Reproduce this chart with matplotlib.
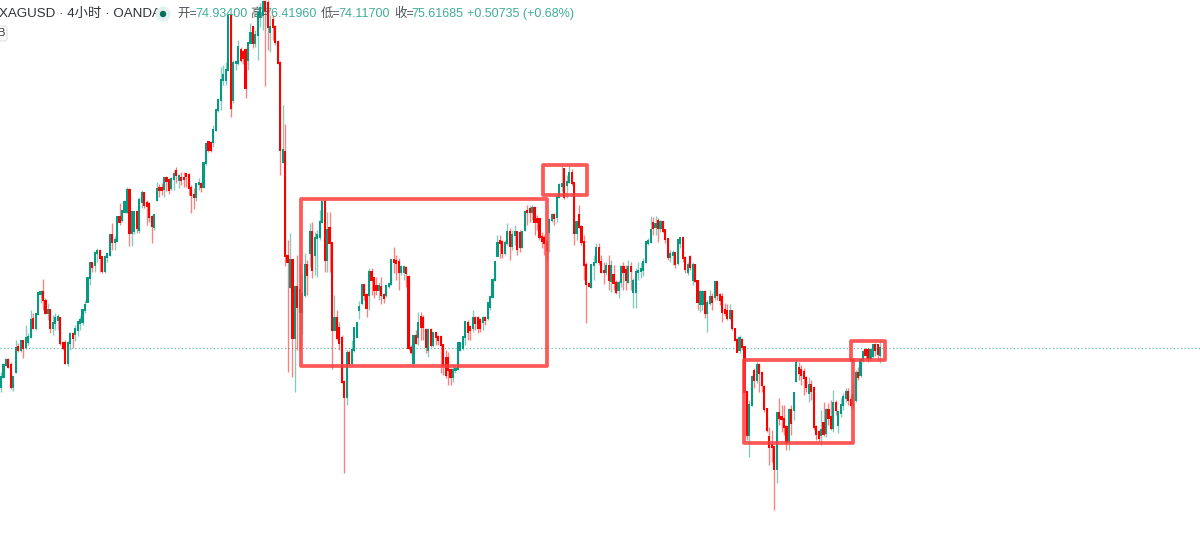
import matplotlib
matplotlib.use("Agg")
import matplotlib.pyplot as plt
from matplotlib.patches import Rectangle, FancyBboxPatch, Circle
import numpy as np

plt.rcParams['font.family'] = ['Liberation Sans', 'Noto Sans CJK SC', 'DejaVu Sans']

# 4-hour candles, rows of (open, high, low, close)
rally_a = [
(71.7,73.2,71.2,72.7),(72.7,74.1,72.6,73.9),(73.9,74.6,73.8,74.4),(74.4,74.6,73.6,73.7),(73.9,74.2,71.5,71.7),
(71.7,72.8,71.3,72.7),(73.2,76.4,73.1,75.6),(75.7,76.1,75.2,75.4),(75.4,76.4,75.2,76.3),(76.3,76.4,74.6,75.6),
(75.7,77.9,75.5,76.6),(76.2,77.1,75.9,76.7),(76.7,79.4,76.6,78.4),(78.5,79.1,77.5,77.6),(77.6,79.1,77.4,79.0),
(79.0,81.2,78.9,81.1),(81.0,81.4,80.1,81.2),(81.2,82.5,79.4,80.4),(80.3,80.6,79.0,79.1),(79.1,80.1,78.4,79.4),
(79.4,79.5,77.1,77.6),(77.6,78.9,76.9,78.1),(78.1,79.1,77.4,78.6),(78.4,79.0,77.4,78.7),(78.6,78.7,75.9,76.1),
(76.1,76.2,75.4,75.6),(76.1,76.4,74.0,74.1),(74.1,76.3,73.8,76.1),(76.1,77.2,75.4,77.0),(77.0,77.2,75.6,76.6),
(77.0,77.9,76.3,77.5),(77.4,78.3,76.8,78.2),(78.1,78.8,77.4,78.4),(78.2,79.5,77.9,79.4),(79.4,80.4,79.1,79.9),
(80.2,82.7,80.2,82.6),(82.6,84.2,81.9,84.1),(84.1,84.2,83.2,83.7),(83.9,85.3,83.2,85.1),(85.1,85.6,84.2,85.3),
(85.3,85.5,83.2,84.6),(84.7,84.8,83.1,83.3),(83.3,84.9,83.1,84.7),(84.7,85.1,84.2,85.0),(84.9,87.0,84.8,86.9),
(86.9,88.1,85.4,86.2),(86.2,86.8,85.4,86.4),(86.3,88.8,86.3,88.7),(88.7,90.1,87.9,88.2),(88.4,89.3,88.2,89.3),
(89.2,90.4,89.1,90.2),(89.2,91.7,89.1,91.4),(91.4,91.6,85.8,87.1),(87.1,89.4,85.8,89.2),(87.3,89.3,87.0,89.2),
(89.2,89.3,87.1,87.6),(87.4,90.7,87.1,90.4),(90.2,91.4,89.6,91.1),(91.1,91.2,89.6,89.9),(90.1,90.4,87.9,89.8),
(90.0,90.2,88.2,88.7),(88.7,88.9,86.1,87.8),(87.7,89.0,87.4,88.9),(90.4,92.2,90.3,91.5),(91.6,92.0,90.7,91.4),
(91.6,92.1,90.9,91.4),(91.5,92.7,90.7,92.6),(92.6,92.8,91.3,92.3),(92.4,92.6,91.0,91.4),(91.6,92.7,91.4,92.5),
(92.5,93.4,91.4,93.0),(93.3,93.7,92.1,92.9),(92.4,93.0,91.6,92.8),(92.6,93.2,91.9,92.4),(92.6,93.2,91.7,92.5),
(93.0,93.1,91.7,92.8),(92.9,93.1,90.9,91.6),(91.6,91.9,89.1,90.9),(90.9,91.6,89.5,90.7),(90.7,92.1,90.3,92.0),
(92.0,92.6,91.4,92.1),(92.0,92.2,91.2,91.7),(91.7,94.2,91.6,94.1),
]
peak_b = [
(94.1,96.1,93.9,96.0),(96.2,96.3,95.2,95.4),(96.1,96.3,95.2,95.4),(96.2,97.9,95.7,97.4),(97.4,99.4,97.3,99.4),
(99.4,100.6,99.2,100.4),(100.4,103.7,99.4,102.4),(102.4,103.9,101.9,102.9),(102.4,104.2,101.9,103.4),(103.4,109.0,103.4,108.8),
(108.8,109.0,98.7,99.6),(100.4,104.4,100.1,104.1),(104.1,104.4,103.4,104.2),(104.1,106.4,103.9,105.7),(105.4,105.7,104.2,104.4),
(105.2,105.4,104.0,104.6),(105.4,105.6,100.6,101.6),(104.4,106.2,103.4,106.1),(106.1,108.1,106.1,107.1),(107.7,107.8,105.6,106.1),
(106.1,107.4,105.7,106.9),(106.9,109.4,104.4,109.1),(108.7,110.1,107.7,109.6),(108.9,110.4,107.4,110.2),(110.2,110.4,101.8,109.4),
(110.1,110.4,105.4,107.7),(107.2,108.9,105.2,107.7),(108.4,108.9,106.4,107.7),(107.7,107.9,105.9,106.2),(106.2,106.4,104.0,104.1),
(104.1,104.3,92.9,95.4),(94.2,99.9,94.1,95.4),(95.2,98.0,83.8,84.8),
]
range_c = [
(84.8,86.4,73.2,84.2),(81.7,87.1,81.6,84.4),(84.4,84.5,72.7,76.6),(76.6,81.9,71.2,81.7),(81.7,84.9,75.4,79.7),
(81.4,84.0,75.4,79.2),(79.2,83.0,77.0,81.0),(80.9,85.1,80.7,83.9),(83.9,84.4,80.9,82.9),(85.1,88.1,83.7,87.2),
(87.2,88.2,82.6,83.4),(84.9,87.2,82.9,86.6),(86.6,87.4,82.7,86.9),(86.7,89.4,86.4,88.2),(88.2,90.4,88.1,90.2),
(90.2,90.4,83.2,84.4),(84.4,89.2,83.2,87.4),(87.6,89.2,83.2,86.1),(86.1,86.2,73.5,77.4),(77.4,80.9,77.3,78.6),
(78.6,79.4,76.4,76.6),(77.6,78.2,75.4,76.1),(76.6,76.9,72.1,72.2),(72.2,72.4,63.1,70.7),(70.7,75.4,69.9,75.1),
(75.1,75.4,73.9,74.1),(74.1,76.4,73.8,75.4),(75.4,77.7,75.2,77.6),(76.7,78.2,76.7,78.1),(79.4,80.3,78.5,79.7),
(80.1,81.9,79.9,81.9),(81.9,82.0,80.4,80.9),(80.9,81.1,78.7,79.6),(80.9,83.6,79.4,83.2),(83.2,83.6,80.9,82.4),
(82.6,82.7,80.6,81.4),(81.8,82.7,80.9,81.4),(81.4,82.2,80.4,81.8),(81.7,82.7,80.0,80.9),(80.9,81.1,80.1,80.6),
(80.9,81.9,80.7,81.8),(81.8,82.1,81.6,82.0),(82.0,84.5,81.9,84.4),(84.4,85.7,83.1,84.2),(84.3,84.9,82.4,84.1),
(84.2,84.6,81.4,83.2),(83.2,83.9,82.9,83.7),(83.2,83.9,82.4,83.7),(83.6,83.8,81.7,83.1),(82.7,82.9,75.4,75.6),
]
range_d = [
(75.6,75.9,75.0,75.2),(74.1,76.9,73.7,76.8),(76.8,77.4,76.0,76.1),(76.7,79.2,75.9,78.1),(78.7,79.2,76.4,77.7),
(78.6,78.9,76.4,77.7),(77.4,77.6,75.1,75.7),(75.4,77.6,74.7,77.4),(77.4,77.6,75.7,75.9),(75.9,77.2,75.7,77.1),
(77.1,77.2,75.9,76.7),(76.7,76.9,75.9,76.4),(76.7,76.9,73.1,75.9),(75.9,76.0,72.9,73.9),(74.6,75.4,72.6,72.9),
(74.6,75.2,71.9,73.4),(73.4,73.6,71.9,72.7),(72.7,74.0,72.2,73.4),(73.4,73.9,73.1,73.5),(73.5,76.2,73.4,76.1),
(75.4,76.2,75.3,76.1),(75.6,76.8,75.4,76.7),(76.7,78.3,75.9,78.2),(78.1,78.4,76.4,77.2),(77.7,77.9,76.4,77.4),
(77.6,79.4,77.2,78.6),(78.6,78.8,77.4,78.1),(78.6,78.8,77.1,77.6),(78.4,78.6,77.2,77.6),(78.2,78.8,77.4,78.6),
(78.6,78.8,77.9,78.4),(78.6,80.1,78.4,80.1),(79.7,80.9,79.4,80.7),(80.7,82.6,80.6,82.4),(82.4,84.2,82.3,84.2),
(84.8,86.9,84.8,86.1),(86.3,86.9,84.6,86.1),(86.2,86.4,84.6,85.1),(85.1,86.4,84.9,86.1),(86.1,88.1,85.9,87.2),
(87.2,87.6,84.4,85.8),(85.8,87.4,85.4,86.9),(86.9,87.9,85.9,87.2),(87.2,87.3,84.9,85.5),(87.1,87.4,85.2,85.7),
(85.7,87.3,85.6,87.2),(87.4,89.3,87.3,89.2),(89.3,89.9,87.9,89.2),(89.5,89.8,88.2,89.2),(89.2,89.9,88.4,89.6),
(89.6,89.8,86.9,88.2),(88.5,88.9,87.4,88.2),(88.5,88.6,86.4,86.7),(86.7,87.2,85.6,86.3),(86.6,86.9,84.9,86.1),
]
decline_e = [
(86.1,86.4,84.4,85.4),(87.2,88.6,85.2,88.4),(88.4,89.1,88.2,88.9),(88.9,89.1,87.9,88.6),(88.7,90.9,88.2,90.7),
(90.7,92.1,90.6,91.9),(91.8,93.8,91.2,92.0),(93.5,93.6,90.5,90.7),(91.9,92.9,90.6,92.2),(92.2,93.8,92.1,93.1),
(93.1,93.5,91.9,92.1),(92.1,92.1,85.9,87.1),(87.1,88.4,86.4,88.2),(88.9,89.9,87.6,87.7),(87.7,87.9,85.9,86.2),
(86.2,86.9,82.4,83.9),(83.9,84.2,78.1,82.0),(82.0,82.2,81.7,81.8),(81.7,84.0,81.6,83.9),(83.9,84.9,82.4,84.1),
(84.2,86.1,84.1,85.6),(85.6,86.1,83.9,84.2),(84.2,84.9,83.1,83.2),(83.3,84.2,82.0,83.2),(83.2,84.2,82.9,83.8),
(83.8,84.9,81.4,82.4),(82.3,84.4,81.2,83.8),(82.9,83.9,81.4,82.1),(82.1,82.4,81.0,81.2),(81.4,82.4,80.6,82.1),
(82.2,83.9,81.7,83.7),(83.7,84.2,81.4,83.2),(83.4,83.9,81.4,82.4),(82.2,84.4,82.1,83.7),(83.7,84.2,81.4,83.3),
(81.2,82.6,79.6,82.3),(81.2,83.6,79.6,83.2),(83.2,84.2,82.4,83.3),(83.3,84.2,82.6,83.5),(83.4,84.6,82.8,84.2),
(84.2,86.3,84.1,86.2),(86.1,86.6,85.9,86.3),(86.2,88.8,86.1,87.4),(88.1,88.7,86.9,87.6),(87.7,88.8,86.9,88.0),
(88.3,88.6,86.2,87.6),(87.6,88.4,87.2,88.2),(88.2,88.3,87.1,87.3),(87.4,87.5,86.1,86.5),(86.5,86.6,84.4,84.7),
(84.7,85.4,84.2,85.0),(84.9,85.4,83.9,85.1),(85.1,85.2,83.6,84.0),(84.1,86.5,83.9,86.4),(86.1,86.7,85.6,86.6),
(86.6,86.7,84.2,84.6),(84.6,84.8,83.1,83.5),(83.2,84.2,82.9,83.9),(84.7,84.9,83.4,83.7),(82.4,84.2,81.9,83.9),
(83.9,84.0,82.2,82.3),(82.3,82.4,79.4,80.2),(80.0,81.4,79.2,81.2),(80.0,81.4,79.4,81.2),(81.2,81.4,78.6,79.1),
(79.1,80.4,77.2,80.1),(80.1,81.4,79.9,80.7),(80.7,81.1,79.4,80.2),(80.7,82.3,80.4,82.2),
(82.2,82.3,80.4,80.9),(80.9,81.1,79.9,80.4),(80.7,81.1,78.2,79.2),(79.4,80.1,78.8,79.1),
(79.3,80.0,78.4,78.6),(78.6,80.0,78.4,79.3),(79.3,79.4,77.4,77.6),(77.5,77.6,76.4,76.4),(76.4,76.6,75.2,75.2),
]
base_f = [
(75.4,76.9,75.1,76.6),(76.4,76.6,75.4,75.7),(75.7,75.8,71.1,71.2),(71.2,71.3,66.4,66.9),(66.9,70.4,64.7,69.9),
(69.9,72.9,69.8,72.7),(73.3,73.6,71.6,72.4),(72.4,74.2,72.1,73.9),(73.9,74.1,71.2,73.1),(73.1,73.3,71.2,71.9),
(71.7,71.9,69.2,69.5),(69.5,69.6,67.2,67.4),(66.7,67.7,63.9,65.7),(65.9,67.4,64.2,65.7),(65.7,65.9,59.4,63.5),
(63.5,69.2,62.1,69.1),(69.1,70.6,67.9,68.6),(68.7,69.9,67.2,68.5),(68.5,69.9,66.9,67.7),(67.7,67.9,65.4,66.2),
(66.2,69.6,65.4,69.4),(69.4,69.9,66.9,68.1),(69.4,71.2,68.4,71.1),(72.3,74.4,72.2,74.1),(73.6,74.2,72.4,73.1),
(73.4,73.9,71.9,72.9),(73.2,73.6,70.9,72.6),(72.6,72.8,71.2,71.7),(71.1,72.7,70.2,71.9),(71.9,72.4,70.4,71.3),
(71.6,71.8,67.4,67.7),(67.7,67.9,66.4,67.0),(67.2,67.4,66.3,66.6),(66.9,69.4,65.9,67.4),(68.1,70.2,66.8,67.0),
(67.1,69.6,66.7,69.4),(69.4,70.1,67.9,68.6),(68.7,70.4,67.4,67.6),(67.6,71.4,67.2,70.1),(70.1,70.4,68.9,69.4),
(67.9,69.4,67.1,69.2),(69.1,70.6,68.7,69.9),(69.9,71.1,69.4,70.7),(70.6,71.6,70.2,71.2),(71.2,71.6,69.9,70.4),
(70.4,70.9,69.6,69.9),(69.9,72.0,69.4,70.9),(70.4,73.4,70.2,73.1),(73.1,73.7,72.4,72.7),(72.9,74.6,72.7,74.4),
(74.4,75.4,74.2,75.2),(75.4,75.6,74.4,74.9),(75.4,75.6,74.2,74.6),(74.6,75.6,74.3,75.4),(74.8,76.0,74.6,75.9),
(75.9,76.1,74.8,75.4),(75.9,76.0,74.4,75.0),(74.9,76.4,74.1,75.6),
]
opens, highs, lows, closes = map(np.array, zip(*(rally_a + peak_b + range_c + range_d + decline_e + base_f)))
last_close = 75.61685

# hand-drawn boxes: left bar, right bar, upper price, lower price
box_left = [121.5, 219.4, 300.8, 344.2]
box_right = [221.0, 237.2, 345.0, 358.0]
box_top = [90.5, 93.9, 74.4, 76.3]
box_bottom = [73.8, 90.9, 66.1, 74.4]

header_labels = ["开=", "高=", "低=", "收="]
header_values = ["74.93400", "76.41960", "74.11700", "75.61685"]
header_change = "+0.50735 (+0.68%)"
symbol_title = "XAGUSD · 4小时 · OANDA"

UP, DOWN = '#089981', '#ff0000'
fig = plt.figure(figsize=(12, 5.35), dpi=100, facecolor='white')
ax = fig.add_axes([0, 0, 1, 1])
ax.set_xlim(-1/2.47, 1199/2.47)
ax.set_ylim(110.4 - 53.5, 110.4)
ax.axis('off')

def fx(x): return x / 1200
def fy(y): return 1 - y / 535

idx = np.arange(len(opens))
up = closes >= opens
colors = np.where(up, UP, DOWN)
ax.axhline(last_close, color=UP, lw=0.8, ls=(0, (1, 2.2)), alpha=0.75, zorder=1)
ax.vlines(idx, lows, highs, colors=colors, lw=0.95, alpha=0.5, zorder=2)
ax.bar(idx, np.abs(closes - opens) + 0.15, bottom=np.minimum(opens, closes) - 0.075, width=0.86,
       color=colors, linewidth=0, zorder=3)

for l, r, t, b in zip(box_left, box_right, box_top, box_bottom):
    ax.add_patch(Rectangle((l, b), r - l, t - b, fill=False, ec='#ff3b3b', lw=2.7, alpha=0.85,
                           joinstyle='round', zorder=5))

tf = fig.transFigure
txt = dict(transform=tf, va='center', fontsize=9, zorder=0.5)
ax.text(fx(-1), fy(14), symbol_title, color='#2f3336', ha='left',
        **{**txt, 'fontsize': 9.6})
ax.add_patch(Circle((163, 535 - 14), 7.5, transform=None, fc='#e3f0ed', ec='none', zorder=0.5))
ax.add_patch(Circle((163, 535 - 14), 3.2, transform=None, fc='#0b6b5b', ec='none', zorder=0.6))
label_x = [177, 250, 321, 394]
value_x = [195, 264, 338, 411]
for lab, val, lx, vx in zip(header_labels, header_values, label_x, value_x):
    ax.text(fx(lx), fy(14), lab, color='#50555c', ha='left', **txt)
    ax.text(fx(vx), fy(14), val, color='#3fae98', ha='left', **txt)
ax.text(fx(467), fy(14), header_change, color='#3fae98', ha='left', **txt)
ax.add_patch(FancyBboxPatch((-8, 535 - 41), 15, 15, boxstyle='round,pad=0,rounding_size=3', transform=None,
                            fc='white', ec='#e3e5e8', lw=1, zorder=0.5))
ax.text(fx(-3), fy(33.5), "B", color='#2f3336', ha='left', transform=tf, va='center', fontsize=8, zorder=0.6)

fig.savefig('out.png', dpi=100, facecolor='white')
